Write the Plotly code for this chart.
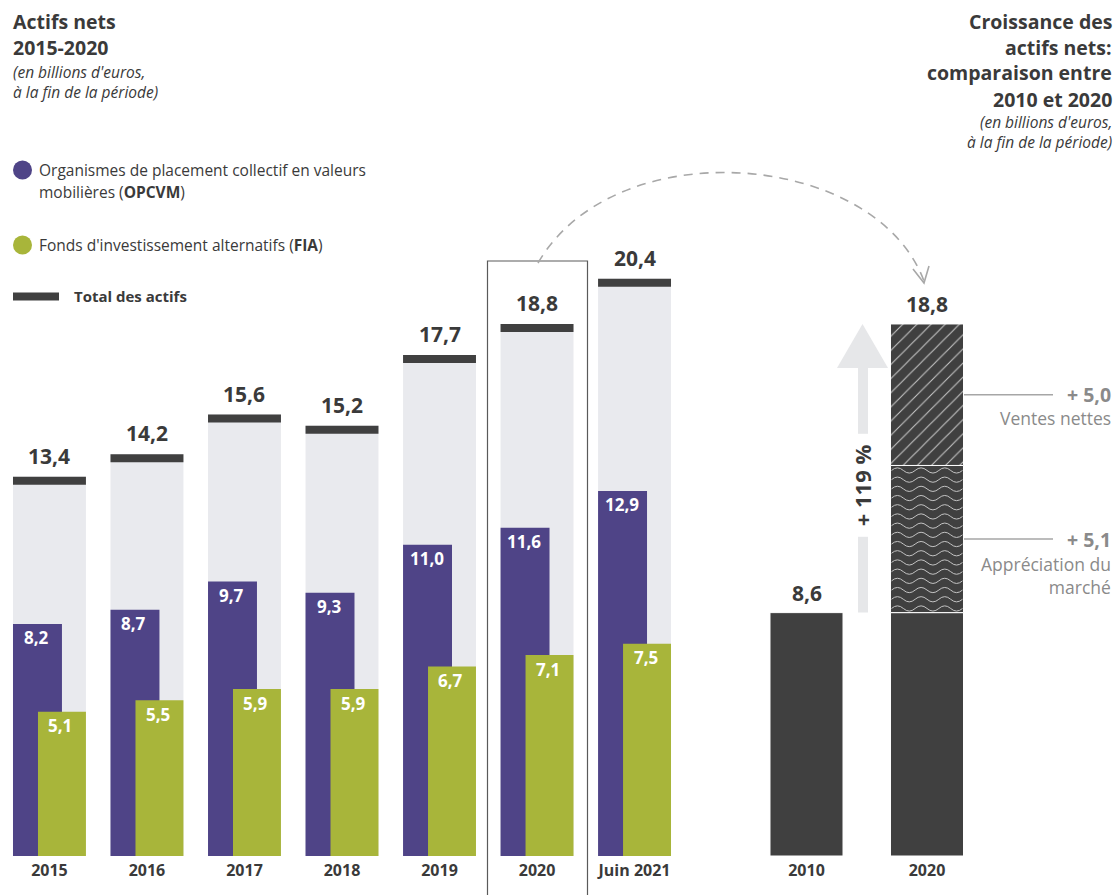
import plotly.graph_objects as go

# ---------------- data ----------------
years = ["2015", "2016", "2017", "2018", "2019", "2020", "Juin 2021"]
opcvm = [8.2, 8.7, 9.7, 9.3, 11.0, 11.6, 12.9]
fia = [5.1, 5.5, 5.9, 5.9, 6.7, 7.1, 7.5]
total = [13.4, 14.2, 15.6, 15.2, 17.7, 18.8, 20.4]

cmp_years = ["2010", "2020"]
cmp_total = [8.6, 18.8]
market_appreciation = 5.1
net_sales = 5.0
growth_pct = 119

# ---------------- layout constants ----------------
W, H = 1118, 895
BOTTOM = 39
PLOT_H = H - BOTTOM
PPU = 28.3  # pixels per billion
SLOT = 97.6  # px per category on the left panel

PURPLE = "#4f4487"
GREEN = "#a8b53a"
BG = "#e9eaee"
DARK = "#404040"
TXT = "#3a3a3a"
GREYTXT = "#8a8a8a"
FONT = "Open Sans"


def fmt(v):
    return f"{v:.1f}".replace(".", ",")


def px_x(px):
    return px / W


def px_y(py):
    return (PLOT_H - py) / PLOT_H


def val_py(v):
    return PLOT_H - v * PPU


fig = go.Figure()

# left panel ------------------------------------------------------
bg_off, bg_w = -36.5 / SLOT, 73 / SLOT
p_off, p_w = -36.5 / SLOT, 49 / SLOT
g_off, g_w = -11.5 / SLOT, 48 / SLOT
mark_h = 8 / PPU

fig.add_bar(x=years, y=total, offset=bg_off, width=bg_w, marker_color=BG,
            marker_line_width=0, hoverinfo="skip", xaxis="x", yaxis="y")
fig.add_bar(x=years, y=opcvm, offset=p_off, width=p_w, marker_color=PURPLE,
            marker_line_width=0, name="OPCVM", xaxis="x", yaxis="y")
fig.add_bar(x=years, y=fia, offset=g_off, width=g_w, marker_color=GREEN,
            marker_line_width=0, name="FIA", xaxis="x", yaxis="y")
fig.add_bar(x=years, y=[mark_h] * len(total), base=[t - mark_h for t in total],
            offset=bg_off, width=bg_w, marker_color=DARK, marker_line_width=0,
            name="Total", xaxis="x", yaxis="y")

# right panel -----------------------------------------------------
base_2010 = cmp_total[0]
top_2020 = cmp_total[1]
market_top = top_2020 - net_sales
fig.add_bar(x=cmp_years, y=[base_2010, base_2010], marker_color=DARK,
            marker_line=dict(color="white", width=1), width=0.606,
            xaxis="x2", yaxis="y")
fig.add_bar(x=[cmp_years[1]], y=[market_top - base_2010], base=[base_2010],
            width=0.606, marker=dict(color=DARK, line=dict(color="white", width=1)),
            xaxis="x2", yaxis="y")
fig.add_bar(x=[cmp_years[1]], y=[net_sales], base=[market_top],
            width=0.606, marker=dict(color=DARK, line=dict(color="white", width=1),
                                     pattern=dict(shape="/", fgcolor="#c9c9c9", bgcolor=DARK,
                                                  size=10, solidity=0.1, fillmode="replace")),
            xaxis="x2", yaxis="y")

annotations = []
shapes = []


def ann(text, x, y, size, color=TXT, xanchor="left", yanchor="middle", xref="paper",
        yref="paper", **kw):
    annotations.append(dict(text=text, x=x, y=y, xref=xref, yref=yref, showarrow=False,
                            xanchor=xanchor, yanchor=yanchor,
                            font=dict(family=FONT, size=size, color=color), **kw))


# wave texture for the "market appreciation" segment
bx0, bx1 = 891.5, 962.5
wy_top = val_py(market_top) + 5
wy_bot = val_py(base_2010) - 3
half = (bx1 - bx0) / 6
amp = 2.6
yy = wy_top
while yy <= wy_bot:
    segs = [f"M {px_x(bx0)} {px_y(yy)}"]
    for k in range(6):
        xa = bx0 + k * half
        sign = -1 if k % 2 == 0 else 1
        segs.append(f"Q {px_x(xa + half / 2)} {px_y(yy + sign * 2 * amp)} "
                    f"{px_x(xa + half)} {px_y(yy)}")
    shapes.append(dict(type="path", xref="paper", yref="paper", path=" ".join(segs),
                       line=dict(color="#c4c4c4", width=1)))
    yy += 9.2

# value labels left (category axis -> use category index)
for i, (t, o, f) in enumerate(zip(total, opcvm, fia)):
    ann(f"<b>{fmt(t)}</b>", i, t, 21, xanchor="center", xref="x", yref="y", yshift=21)
    ann(f"<b>{fmt(o)}</b>", i, o, 17, color="white", xanchor="center", xref="x", yref="y",
        yshift=-14, xshift=-13)
    ann(f"<b>{fmt(f)}</b>", i, f, 17, color="white", xanchor="center", xref="x", yref="y",
        yshift=-14, xshift=11)

# value labels right
for i, t in enumerate(cmp_total):
    ann(f"<b>{fmt(t)}</b>", i, t, 21, xanchor="center", xref="x2", yref="y", yshift=20)

# box around 2020
shapes.append(dict(type="rect", xref="paper", yref="paper", x0=px_x(487.5), x1=px_x(587.5),
                   y0=px_y(261), y1=px_y(H + 5), line=dict(color="#5a5a5a", width=1.2),
                   fillcolor="rgba(0,0,0,0)"))

# dashed arc arrow
arc = "M {} {} C {} {} {} {} {} {}".format(
    px_x(538), px_y(263), px_x(615), px_y(130), px_x(875), px_y(150), px_x(924), px_y(281))
shapes.append(dict(type="path", xref="paper", yref="paper", path=arc,
                   line=dict(color="#a8a8a8", width=1.6, dash="9px,7px")))
chev = "M {} {} L {} {} L {} {}".format(px_x(913), px_y(269), px_x(924), px_y(283),
                                        px_x(929), px_y(266))
shapes.append(dict(type="path", xref="paper", yref="paper", path=chev,
                   line=dict(color="#a8a8a8", width=1.6)))

# growth arrow
head_h = 44 / PPU
shapes.append(dict(type="line", xref="paper", yref="y", x0=px_x(863), x1=px_x(863),
                   y0=base_2010, y1=top_2020 - head_h, line=dict(color="#e6e7e9", width=10)))
tri = "M {} {} L {} {} L {} {} Z".format(px_x(837), top_2020 - head_h, px_x(888),
                                         top_2020 - head_h, px_x(862.5), top_2020)
shapes.append(dict(type="path", xref="paper", yref="y", path=tri, fillcolor="#e6e7e9",
                   line=dict(width=0)))
ann(f"<b>+ {growth_pct} %</b>", px_x(862), (base_2010 + top_2020 - head_h) / 2, 22,
    xanchor="center", yref="y", textangle=-90, bgcolor="white", borderpad=10, yshift=5)

# leader lines + side labels
y_sales = top_2020 - net_sales / 2
y_market = (base_2010 + market_top) / 2
for yv in (y_sales, y_market):
    shapes.append(dict(type="line", xref="paper", yref="y", x0=px_x(964), x1=px_x(1053),
                       y0=yv, y1=yv, line=dict(color="#a6a6a6", width=1.5)))
ann(f"<b>+ {fmt(net_sales)}</b>", px_x(1113), y_sales, 19.5, color=GREYTXT, xanchor="right",
    yref="y")
ann("Ventes nettes", px_x(1113), y_sales, 17.5, color=GREYTXT, xanchor="right", yref="y",
    yshift=-23)
ann(f"<b>+ {fmt(market_appreciation)}</b>", px_x(1113), y_market, 19.5, color=GREYTXT,
    xanchor="right", yref="y")
ann("Appréciation du<br>marché", px_x(1113), y_market, 17.5, color=GREYTXT, xanchor="right",
    yref="y", yanchor="top", yshift=-11, align="right")

# headers
ann("<b>Actifs nets</b>", px_x(11), px_y(22), 19.5)
ann("<b>2015-2020</b>", px_x(11), px_y(47), 19.5)
ann("<i>(en billions d'euros,</i>", px_x(11), px_y(72), 15.5)
ann("<i>à la fin de la période)</i>", px_x(11), px_y(92), 15.5)

ann("<b>Croissance des</b>", px_x(1114), px_y(22), 19.5, xanchor="right")
ann("<b>actifs nets:</b>", px_x(1114), px_y(47), 19.5, xanchor="right")
ann("<b>comparaison entre</b>", px_x(1114), px_y(73), 19.5, xanchor="right")
ann("<b>2010 et 2020</b>", px_x(1114), px_y(99), 19.5, xanchor="right")
ann("<i>(en billions d'euros,</i>", px_x(1114), px_y(122), 15.5, xanchor="right")
ann("<i>à la fin de la période)</i>", px_x(1114), px_y(142), 15.5, xanchor="right")

# legend
for cy, col in ((170, PURPLE), (245, GREEN)):
    shapes.append(dict(type="circle", xref="paper", yref="paper", x0=px_x(13), x1=px_x(32),
                       y0=px_y(cy + 9.5), y1=px_y(cy - 9.5), fillcolor=col,
                       line=dict(width=0)))
ann("Organismes de placement collectif en valeurs", px_x(37), px_y(170), 15.5)
ann("mobilières (<b>OPCVM</b>)", px_x(37), px_y(192), 15.5)
ann("Fonds d'investissement alternatifs (<b>FIA</b>)", px_x(37), px_y(245), 15.5)
shapes.append(dict(type="rect", xref="paper", yref="paper", x0=px_x(13), x1=px_x(59),
                   y0=px_y(300.5), y1=px_y(292.5), fillcolor=DARK, line=dict(width=0)))
ann("<b>Total des actifs</b>", px_x(72), px_y(296), 15)

y_top = PLOT_H / PPU
tickfont = dict(family=FONT, size=16, color=TXT, weight="bold")
fig.update_layout(
    width=W, height=H, margin=dict(l=0, r=0, t=0, b=BOTTOM),
    paper_bgcolor="white", plot_bgcolor="white",
    barmode="overlay", showlegend=False,
    annotations=annotations, shapes=shapes,
    xaxis=dict(domain=[0.7 / W, 683.3 / W], type="category", range=[-0.5, 6.5],
               showgrid=False, zeroline=False, showline=False, ticks="",
               tickfont=tickfont, ticklabelstandoff=3, fixedrange=True),
    xaxis2=dict(domain=[746.25 / W, 987.25 / W], type="category", range=[-0.5, 1.5],
                anchor="y", showgrid=False, zeroline=False, showline=False, ticks="",
                tickfont=tickfont, ticklabelstandoff=3, fixedrange=True),
    yaxis=dict(range=[0, y_top], visible=False, showgrid=False, zeroline=False,
               fixedrange=True),
)

fig.write_html("out.html", config={"displayModeBar": False},
               post_script="document.body.style.margin='0';document.body.style.overflow='hidden';")
